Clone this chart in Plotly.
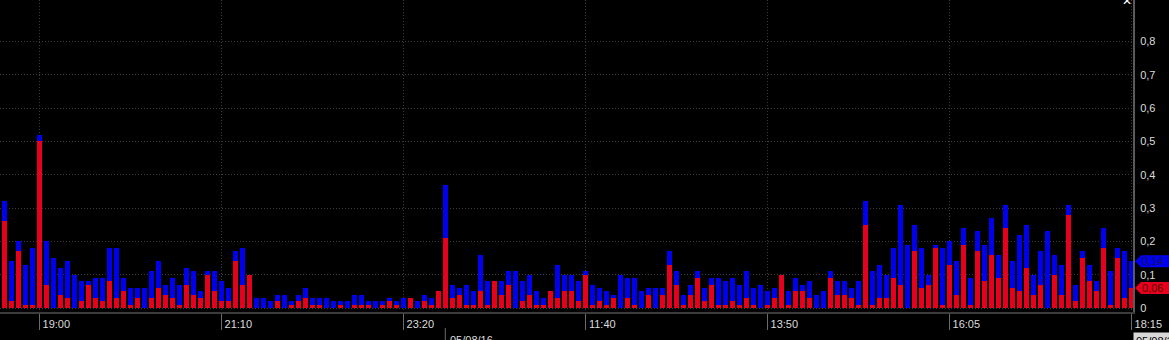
import plotly.graph_objects as go

# 5-minute volume bars (index 0..161), red = bottom part, blue = top part
red = [0.26, 0.02, 0.17, 0.01, 0.01, 0.50, 0.07, 0.00, 0.04, 0.03,
       0.00, 0.02, 0.07, 0.03, 0.02, 0.08, 0.03, 0.05, 0.01, 0.03,
       0.00, 0.03, 0.06, 0.04, 0.03, 0.01, 0.07, 0.04, 0.03, 0.10,
       0.05, 0.02, 0.02, 0.14, 0.07, 0.10, 0.00, 0.00, 0.00, 0.02,
       0.00, 0.01, 0.02, 0.03, 0.01, 0.01, 0.00, 0.00, 0.01, 0.00,
       0.01, 0.01, 0.01, 0.00, 0.01, 0.02, 0.01, 0.00, 0.03, 0.00,
       0.02, 0.01, 0.05, 0.21, 0.03, 0.04, 0.01, 0.01, 0.05, 0.01,
       0.08, 0.04, 0.07, 0.00, 0.02, 0.04, 0.01, 0.01, 0.05, 0.03,
       0.05, 0.05, 0.02, 0.10, 0.01, 0.02, 0.01, 0.03, 0.00, 0.03,
       0.01, 0.00, 0.04, 0.00, 0.04, 0.13, 0.07, 0.01, 0.04, 0.09,
       0.02, 0.07, 0.01, 0.01, 0.02, 0.01, 0.03, 0.01, 0.00, 0.01,
       0.03, 0.10, 0.01, 0.05, 0.05, 0.03, 0.00, 0.00, 0.09, 0.04,
       0.04, 0.03, 0.01, 0.25, 0.01, 0.03, 0.03, 0.09, 0.07, 0.00,
       0.17, 0.06, 0.07, 0.18, 0.01, 0.13, 0.04, 0.19, 0.01, 0.17,
       0.08, 0.16, 0.09, 0.24, 0.06, 0.05, 0.12, 0.04, 0.07, 0.00,
       0.10, 0.04, 0.28, 0.02, 0.15, 0.08, 0.05, 0.18, 0.01, 0.15,
       0.03, 0.06]

blue = [0.06, 0.12, 0.03, 0.12, 0.17, 0.02, 0.13, 0.15, 0.08, 0.11,
        0.10, 0.06, 0.01, 0.06, 0.07, 0.10, 0.15, 0.04, 0.05, 0.03,
        0.06, 0.08, 0.08, 0.03, 0.06, 0.06, 0.05, 0.07, 0.02, 0.01,
        0.06, 0.06, 0.04, 0.03, 0.11, 0.00, 0.03, 0.03, 0.02, 0.02,
        0.04, 0.01, 0.02, 0.03, 0.02, 0.02, 0.03, 0.02, 0.01, 0.02,
        0.03, 0.03, 0.01, 0.02, 0.01, 0.01, 0.01, 0.03, 0.00, 0.02,
        0.02, 0.02, 0.00, 0.16, 0.04, 0.02, 0.06, 0.04, 0.11, 0.07,
        0.00, 0.04, 0.04, 0.11, 0.06, 0.06, 0.04, 0.02, 0.00, 0.10,
        0.05, 0.05, 0.06, 0.01, 0.06, 0.04, 0.04, 0.01, 0.10, 0.06,
        0.08, 0.05, 0.02, 0.06, 0.02, 0.04, 0.04, 0.03, 0.03, 0.02,
        0.04, 0.02, 0.08, 0.07, 0.07, 0.06, 0.08, 0.05, 0.07, 0.04,
        0.03, 0.00, 0.04, 0.04, 0.02, 0.05, 0.04, 0.05, 0.02, 0.04,
        0.04, 0.03, 0.07, 0.07, 0.10, 0.10, 0.07, 0.09, 0.24, 0.19,
        0.08, 0.12, 0.03, 0.01, 0.17, 0.07, 0.10, 0.05, 0.08, 0.06,
        0.11, 0.11, 0.07, 0.07, 0.08, 0.17, 0.13, 0.06, 0.10, 0.23,
        0.06, 0.09, 0.03, 0.05, 0.02, 0.05, 0.03, 0.06, 0.10, 0.03,
        0.14, 0.08]

bar_index = list(range(len(red)))

tick_index = [5, 31, 57, 83, 109, 135, 161]
tick_labels = ["19:00", "21:10", "23:20", "11:40", "13:50", "16:05", "18:15"]

y_ticks = [0, 0.1, 0.2, 0.3, 0.4, 0.5, 0.6, 0.7, 0.8]

date_index = 63
date_label = "05/08/16"

RED = "#e6001e"
BLUE = "#0000ee"
TXT = "#dcdcdc"
FONT = "Liberation Sans"
GRID = "#3c3c3c"

fig = go.Figure()
fig.add_trace(go.Bar(x=bar_index, y=red, marker=dict(color=RED, line=dict(width=0)),
                     width=0.76, showlegend=False))
fig.add_trace(go.Bar(x=bar_index, y=blue, marker=dict(color=BLUE, line=dict(width=0)),
                     width=0.76, showlegend=False))

W, H = 1169, 340
ml, mr, mt, mb = 0, 36, 0, 28
plot_h = H - mt - mb

fig.update_layout(
    width=W, height=H,
    margin=dict(l=ml, r=mr, t=mt, b=mb, pad=0),
    paper_bgcolor="#000000", plot_bgcolor="#000000",
    barmode="stack", bargap=0,
    separators=",.",
    font=dict(family=FONT, size=11, color=TXT),
    xaxis=dict(
        type="linear", range=[-0.614, 161.24],
        tickmode="array", tickvals=tick_index, ticktext=tick_labels,
        ticks="outside", ticklen=16, tickwidth=1, tickcolor="#6a6a6a",
        ticklabelshift=17, ticklabelstandoff=-15,
        showgrid=True, gridcolor=GRID, griddash="1px,2px", gridwidth=1,
        showline=True, linecolor="#3c3c3c", linewidth=2,
        zeroline=False, fixedrange=True,
        tickfont=dict(family=FONT, size=11, color=TXT),
    ),
    yaxis=dict(
        side="right", range=[-0.012, 0.924],
        tickmode="array", tickvals=y_ticks,
        ticks="", ticklabelstandoff=3,
        showgrid=True, gridcolor=GRID, griddash="1px,2px", gridwidth=1,
        showline=True, linecolor="#5a5a5a", linewidth=2,
        zeroline=False, fixedrange=True,
        tickfont=dict(family=FONT, size=11, color=TXT),
    ),
)

# date separator on the time axis
fig.add_shape(type="line", xref="x", yref="paper",
              x0=date_index, x1=date_index, y0=-16 / plot_h, y1=-30 / plot_h,
              line=dict(color="#6a6a6a", width=1))
fig.add_annotation(x=date_index, xref="x", y=-27.5 / plot_h, yref="paper",
                   text=date_label, showarrow=False, xanchor="left", yanchor="middle",
                   xshift=3, font=dict(family=FONT, size=11, color=TXT))

# date box at right bottom
fig.add_annotation(x=1.0, xref="paper", y=-20 / plot_h, yref="paper",
                   text=date_label, showarrow=False, xanchor="left", yanchor="top",
                   xshift=0, bgcolor="#d8d8d8", borderpad=2,
                   font=dict(family=FONT, size=11, color="#000000"))

# last-value tags on the price axis
last_blue_total = red[-1] + blue[-1]
last_red = red[-1]
for val, col, tcol in [(last_blue_total, BLUE, "#10105a"), (last_red, RED, "#5a0000")]:
    fig.add_shape(type="path", xref="paper", yref="y",
                  xsizemode="pixel", ysizemode="pixel", xanchor=1.0, yanchor=val,
                  path="M 2 0 L 8 6 L 40 6 L 40 -6 L 8 -6 Z",
                  fillcolor=col, line=dict(width=0), layer="above")
    fig.add_annotation(x=1.0, xref="paper", y=val, yref="y",
                       text=f"{val:.2f}".replace(".", ","), showarrow=False,
                       xanchor="left", yanchor="middle", xshift=7,
                       font=dict(family=FONT, size=11, color=tcol))

# close mark at top right
fig.add_annotation(x=1.0, xref="paper", y=1.0, yref="paper",
                   text="✕", showarrow=False, xanchor="center", yanchor="middle",
                   xshift=-6, yshift=-1, font=dict(family="DejaVu Sans", size=12, color="#ffffff"))

fig.write_html("out.html", config={"displayModeBar": False})
